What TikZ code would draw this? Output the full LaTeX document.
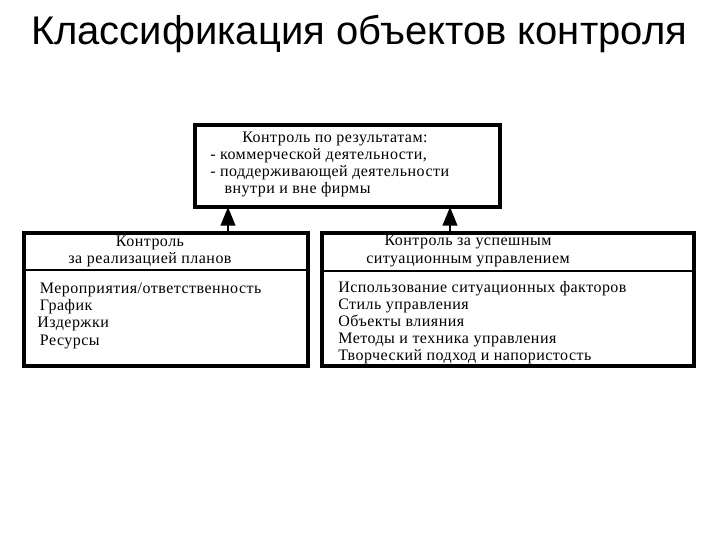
\documentclass[tikz,border=0pt]{standalone}
\usepackage{fontspec}
\setmainfont{Liberation Serif}[LetterSpace=3]
\newfontfamily\titlefont{Liberation Sans}
\usetikzlibrary{arrows.meta}
\begin{document}
\begin{tikzpicture}[x=0.75pt,y=-0.75pt,
  box/.style={draw=black,line width=3pt},
  txt/.style={inner sep=0pt,font=\fontsize{12}{12.8}\selectfont,align=left},
  arr/.style={line width=1.5pt,-{Triangle[length=14pt,width=11pt]}}]
\useasboundingbox (0,0) rectangle (720,540);
\node[inner sep=0pt,font=\titlefont\fontsize{30}{34}\selectfont] (title) at (359,34) {Классификация объектов контроля};
\draw[box] (195,125) rectangle (500,207);
\coordinate (topL) at (228,207);
\coordinate (topR) at (450,207);
\node[txt,anchor=north west] (t1) at (210,132) {\hspace*{2em}Контроль по результатам:\\- коммерческой деятельности,\\- поддерживающей деятельности\\\hspace*{0.9em}внутри и вне фирмы};
\draw[box] (24,233) rectangle (308,366);
\draw[line width=1.5pt] (24,270) -- (308,270);
\node[txt,align=center] (h1) at (150,251) {Контроль\\за реализацией планов};
\node[txt,anchor=north west] (l1) at (37,283) {\,Мероприятия/ответственность\\\,График\\Издержки\\\,Ресурсы};
\draw[box] (322,233) rectangle (694,366);
\draw[line width=1.5pt] (322,271) -- (694,271);
\node[txt,align=center] (h2) at (468,251) {Контроль за успешным\\ситуационным управлением};
\node[txt,anchor=north west] (r1) at (338,281) {Использование ситуационных факторов\\Стиль управления\\Объекты влияния\\Методы и техника управления\\Творческий подход и напористость};
\coordinate (bL) at (228,233);
\coordinate (bR) at (450,233);
\draw[arr] (bL) -- (topL);
\draw[arr] (bR) -- (topR);
\end{tikzpicture}
\end{document}
